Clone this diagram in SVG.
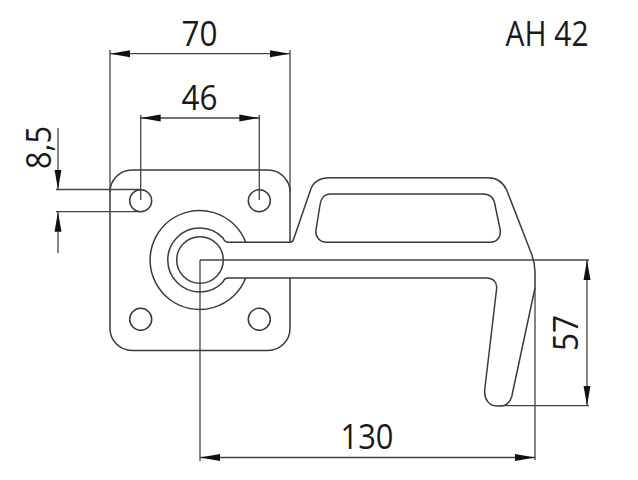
<svg xmlns="http://www.w3.org/2000/svg" width="638" height="480" viewBox="0 0 638 480">
<defs>
<marker id="a" markerUnits="userSpaceOnUse" markerWidth="22" markerHeight="9" refX="20" refY="4.500" orient="auto-start-reverse"><path d="M0 1 20 4.500 0 8z" fill="#111"/></marker>
</defs>
<style>
.o{fill:none;stroke:#3a3a3a;stroke-width:1.5}
.d{fill:none;stroke:#444;stroke-width:1.300}
text{font-family:"Open Sans","Noto Sans",sans-serif;fill:#1a1a1a;font-size:34px;text-anchor:middle}
</style>
<rect width="638" height="480" fill="#fff"/>
<g id="plate">
<path class="o" d="M290 242V192A22 22 0 0 0 268 170H132A22 22 0 0 0 110 192V328.500A22 22 0 0 0 132 350.500H268A22 22 0 0 0 290 328.500V278"/>
<circle class="o" cx="140.700" cy="200.700" r="11"/>
<circle class="o" cx="259.300" cy="200.700" r="11"/>
<circle class="o" cx="140.700" cy="319.300" r="11"/>
<circle class="o" cx="259.300" cy="319.300" r="11"/>
</g>
<g id="boss">
<path class="o" d="M245.700 242A49.500 49.500 0 1 0 245.700 278"/>
<path class="o" d="M228 242.300C225.500 242.300 224 240.500 223 238A32 32 0 1 0 223 282C224 279.500 225.500 278 228 278"/>
<circle class="o" cx="200" cy="260" r="23.300"/>
</g>
<g id="hook">
<path class="o" d="M228 242.300H290C292 242.300 293 241 293.500 239.500L310.500 190C313 182 320 177.700 330 177.700H488C496 177.700 503 182 506.700 190L530 250C533.500 258 535 264 535 272V288L511.700 396.700C510 402 506 406 501.700 406H496.700C489 406 484 399 484.700 390L496.700 288C497 282 493 278 486.700 278H228"/>
<path class="o" d="M330 194H483.300C490 194 494 198 495 205L500.300 230C501 237 497 242.300 490 242.300H326.700C320 242.300 315 237 316 230L320 205C321 198 325 194 330 194Z"/>
</g>
<g id="connectors">
<path class="d" d="M110 50V192M290 50V192"/>
<path class="d" marker-start="url(#a)" marker-end="url(#a)" d="M110 53.700H290"/>
<path class="d" d="M140.700 115V200M259.300 115V200"/>
<path class="d" marker-start="url(#a)" marker-end="url(#a)" d="M140.700 118H259.300"/>
<path class="d" d="M56 189.500H140M56 211.700H140"/>
<path class="d" marker-end="url(#a)" d="M58 128V189.500"/>
<path class="d" marker-end="url(#a)" d="M58 253V211.700"/>
<path class="d" d="M200 260H589M200 260V461M535 288V460M500 405.700H589"/>
<path class="d" marker-start="url(#a)" marker-end="url(#a)" d="M200 457.500H535"/>
<path class="d" marker-start="url(#a)" marker-end="url(#a)" d="M587 260V405.700"/>
</g>
<g id="labels">
<text x="199.500" y="46" textLength="36" lengthAdjust="spacingAndGlyphs">70</text>
<text x="199.500" y="110" textLength="36" lengthAdjust="spacingAndGlyphs">46</text>
<text x="367" y="449.300" textLength="53" lengthAdjust="spacingAndGlyphs">130</text>
<text x="547" y="46" textLength="83" lengthAdjust="spacingAndGlyphs">AH 42</text>
<text transform="translate(50.500 147.500) rotate(-90)" textLength="43" lengthAdjust="spacingAndGlyphs">8,5</text>
<text transform="translate(578 333) rotate(-90)" textLength="36" lengthAdjust="spacingAndGlyphs">57</text>
</g>
</svg>
